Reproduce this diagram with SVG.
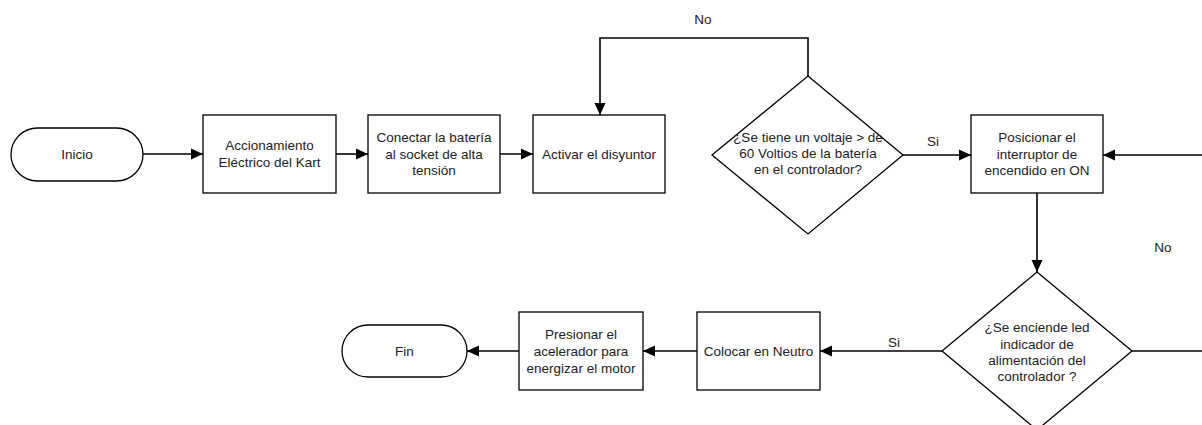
<svg xmlns="http://www.w3.org/2000/svg" width="1202" height="425" viewBox="0 0 1202 425">
<style>
.s{fill:#fff;stroke:#000;stroke-width:1.3}
.c{fill:none;stroke:#000;stroke-width:1.6}
text{font-family:"Liberation Sans",Arial,sans-serif;font-size:13.5px;fill:#222;text-anchor:middle}
</style>
<defs>
<marker id="ah" markerUnits="userSpaceOnUse" markerWidth="12" markerHeight="12" viewBox="0 0 12 12" refX="12" refY="6" orient="auto">
<path d="M0,0.5 L12,6 L0,11.5 z" fill="#000"/>
</marker>
</defs>
<rect width="1202" height="425" fill="#fff"/>
<g id="connectors">
<line class="c" x1="143" y1="154" x2="203" y2="154" marker-end="url(#ah)"/>
<line class="c" x1="336" y1="154" x2="368" y2="154" marker-end="url(#ah)"/>
<line class="c" x1="500" y1="154" x2="533" y2="154" marker-end="url(#ah)"/>
<polyline class="c" points="808,76 808,38 600,38 600,115" marker-end="url(#ah)"/>
<line class="c" x1="903" y1="155" x2="971" y2="155" marker-end="url(#ah)"/>
<line class="c" x1="1202" y1="155" x2="1103" y2="155" marker-end="url(#ah)"/>
<line class="c" x1="1037" y1="193" x2="1037" y2="272" marker-end="url(#ah)"/>
<line class="c" x1="942" y1="351" x2="820" y2="351" marker-end="url(#ah)"/>
<line class="c" x1="1132" y1="351" x2="1202" y2="351"/>
<line class="c" x1="697" y1="351" x2="643" y2="351" marker-end="url(#ah)"/>
<line class="c" x1="519" y1="351" x2="467" y2="351" marker-end="url(#ah)"/>
<text x="703" y="24">No</text>
<text x="933" y="146">Si</text>
<text x="1163" y="252">No</text>
<text x="894" y="347">Si</text>
</g>
<g id="inicio">
<rect class="s" x="11" y="128" width="132" height="53" rx="26.5" ry="26.5"/>
<text x="77" y="159">Inicio</text>
</g>
<g id="accionamiento">
<rect class="s" x="203" y="115" width="133" height="78"/>
<text x="269.5" y="150">Accionamiento</text>
<text x="269.5" y="167">Eléctrico del Kart</text>
</g>
<g id="conectar">
<rect class="s" x="368" y="115" width="132" height="78"/>
<text x="434" y="142">Conectar la batería</text>
<text x="434" y="158.5">al socket de alta</text>
<text x="434" y="175">tensión</text>
</g>
<g id="activar">
<rect class="s" x="533" y="115" width="132" height="78"/>
<text x="599" y="158.5">Activar el disyuntor</text>
</g>
<g id="decision1">
<polygon class="s" points="808,76 903,155 808,234 712,155"/>
<text x="808" y="142">¿Se tiene un voltaje &gt; de</text>
<text x="808" y="158">60 Voltios de la batería</text>
<text x="808" y="174">en el controlador?</text>
</g>
<g id="posicionar">
<rect class="s" x="971" y="115" width="132" height="78"/>
<text x="1037" y="142">Posicionar el</text>
<text x="1037" y="158.5">interruptor de</text>
<text x="1037" y="175">encendido en ON</text>
</g>
<g id="decision2">
<polygon class="s" points="1037,272 1132,351 1037,430 942,351"/>
<text x="1037" y="332">¿Se enciende led</text>
<text x="1037" y="348.5">indicador de</text>
<text x="1037" y="364.5">alimentación del</text>
<text x="1037" y="381">controlador ?</text>
</g>
<g id="colocar">
<rect class="s" x="697" y="312" width="123" height="78"/>
<text x="758.5" y="356">Colocar en Neutro</text>
</g>
<g id="presionar">
<rect class="s" x="519" y="312" width="124" height="78"/>
<text x="581" y="339">Presionar el</text>
<text x="581" y="356">acelerador para</text>
<text x="581" y="373">energizar el motor</text>
</g>
<g id="fin">
<rect class="s" x="342" y="325" width="125" height="52" rx="26" ry="26"/>
<text x="404.5" y="356">Fin</text>
</g>
</svg>
